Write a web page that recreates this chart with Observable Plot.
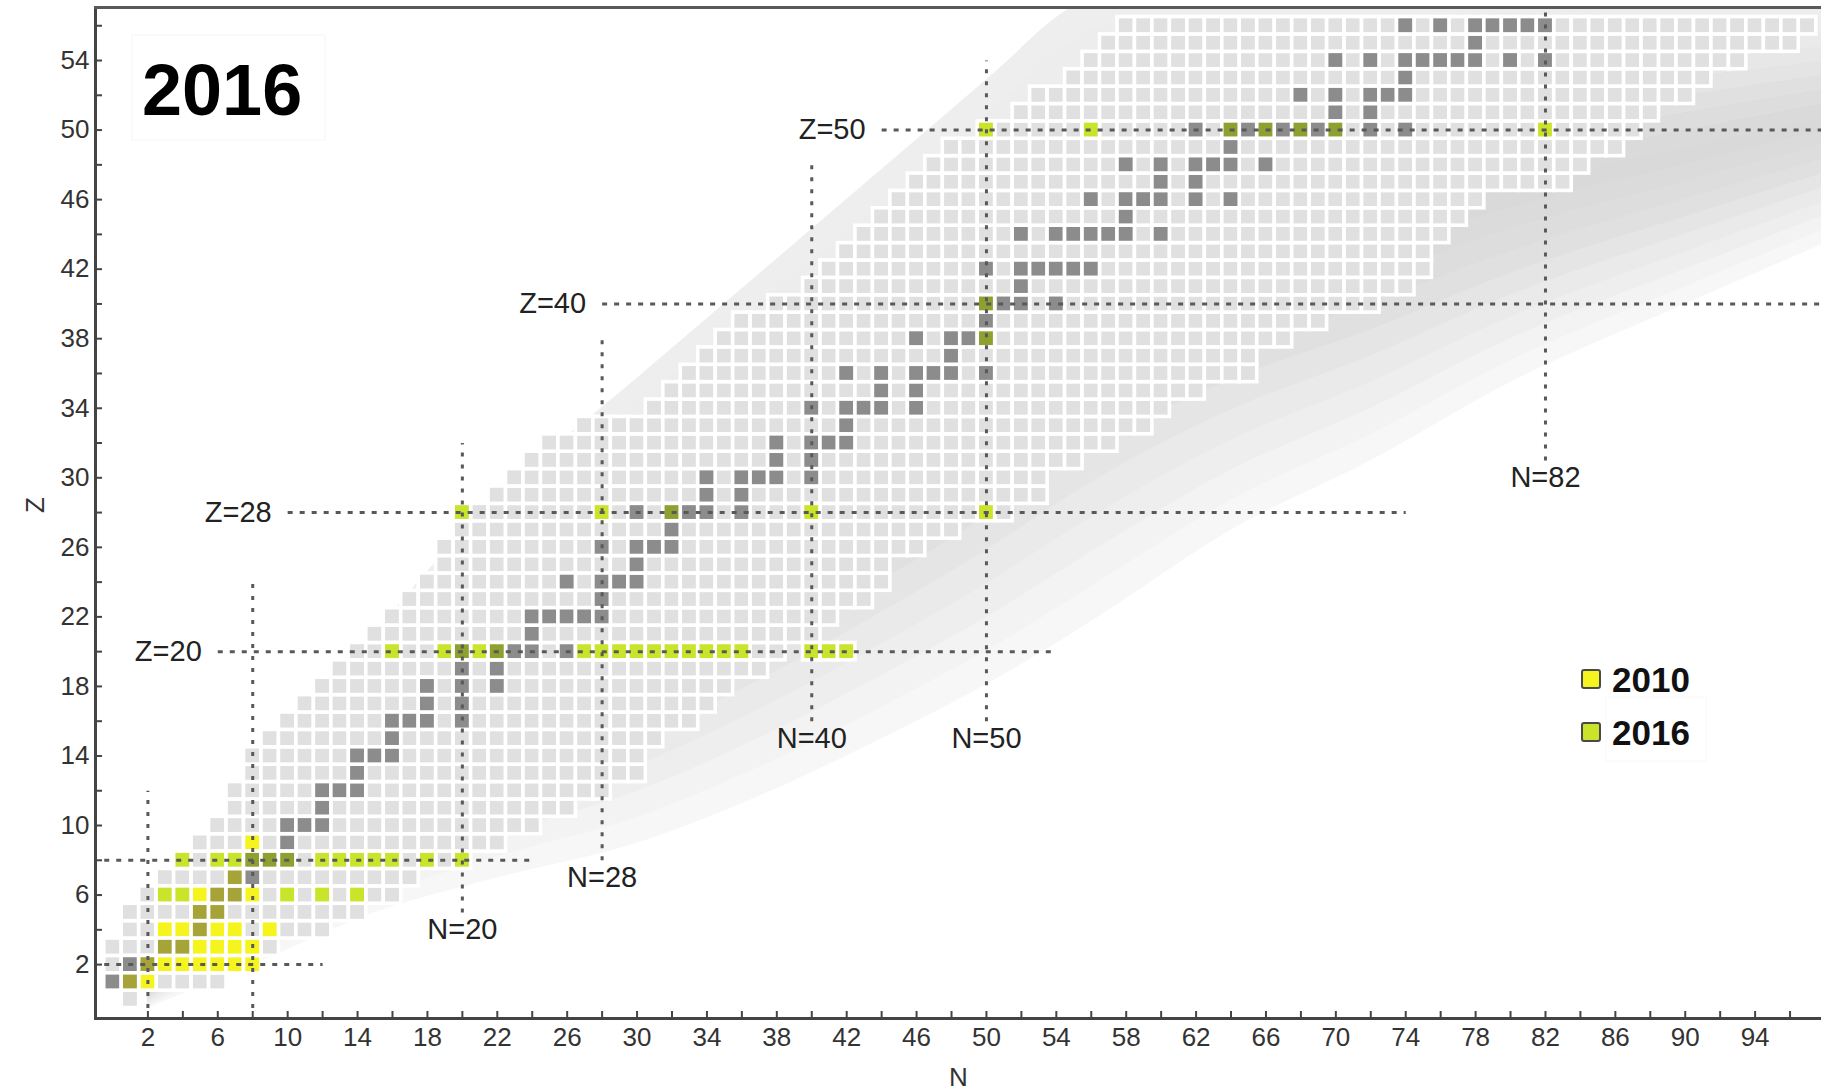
<!DOCTYPE html>
<html>
<head>
<meta charset="utf-8">
<script src="https://cdn.jsdelivr.net/npm/d3@7"></script>
<script src="https://cdn.jsdelivr.net/npm/@observablehq/plot@0.6"></script>
<style>
  html, body { margin: 0; padding: 0; background: #fff; }
  #chart { width: 1821px; height: 1091px; overflow: hidden; }
</style>
</head>
<body>
<div id="chart"></div>
<script>
// Known nuclei: lightest and heaviest neutron number for each Z = 0..56
const knownMinN = [1, 0, 0, 0, 1, 1, 2, 3, 4, 5,
                   6, 7, 7, 8, 8, 9, 10, 11, 12, 13,
                   14, 15, 16, 17, 18, 19, 19, 20, 20, 22,
                   23, 24, 25, 27, 31, 32, 33, 34, 35, 36,
                   38, 40, 41, 42, 43, 44, 45, 46, 47, 48,
                   50, 52, 53, 55, 56, 57, 58];
const knownMaxN = [1, 6, 8, 9, 12, 14, 16, 17, 20, 22,
                   24, 26, 28, 30, 30, 31, 33, 34, 35, 37,
                   38, 40, 41, 43, 44, 44, 46, 48, 51, 53,
                   53, 55, 57, 59, 60, 62, 65, 65, 67, 69,
                   72, 74, 75, 75, 76, 77, 78, 83, 84, 86,
                   87, 88, 90, 91, 93, 96, 97];

// Stable nuclei, as [Z, [N, ...]]
const stableByZ = [
  [1, [0, 1]], [2, [1, 2]], [3, [3, 4]], [4, [5]], [5, [5, 6]], [6, [6, 7]],
  [7, [7, 8]], [8, [8, 9, 10]], [9, [10]], [10, [10, 11, 12]], [11, [12]],
  [12, [12, 13, 14]], [13, [14]], [14, [14, 15, 16]], [15, [16]],
  [16, [16, 17, 18, 20]], [17, [18, 20]], [18, [18, 20, 22]], [19, [20, 22]],
  [20, [20, 22, 23, 24, 26]], [21, [24]], [22, [24, 25, 26, 27, 28]], [23, [28]],
  [24, [26, 28, 29, 30]], [25, [30]], [26, [28, 30, 31, 32]], [27, [32]],
  [28, [30, 32, 33, 34, 36]], [29, [34, 36]], [30, [34, 36, 37, 38, 40]],
  [31, [38, 40]], [32, [38, 40, 41, 42]], [33, [42]], [34, [40, 42, 43, 44, 46]],
  [35, [44, 46]], [36, [42, 44, 46, 47, 48, 50]], [37, [48]], [38, [46, 48, 49, 50]],
  [39, [50]], [40, [50, 51, 52, 54]], [41, [52]], [42, [50, 52, 53, 54, 55, 56]],
  [44, [52, 54, 55, 56, 57, 58, 60]], [45, [58]], [46, [56, 58, 59, 60, 62, 64]],
  [47, [60, 62]], [48, [58, 60, 62, 63, 64, 66]], [49, [64]],
  [50, [62, 64, 65, 66, 67, 68, 69, 70, 72, 74]], [51, [70, 72]],
  [52, [68, 70, 72, 73, 74]], [53, [74]], [54, [70, 72, 74, 75, 76, 77, 78, 80, 82]],
  [55, [78]], [56, [74, 76, 78, 79, 80, 81, 82]]
];

// Nuclei reached by ab initio calculations, as [Z, [N, ...]]
const computed2010 = [
  [1, [1, 2]], [2, [2, 3, 4, 5, 6, 7, 8]], [3, [3, 4, 5, 6, 7, 8]],
  [4, [3, 4, 5, 6, 7, 9]], [5, [5, 6]], [6, [5, 6, 7, 8]], [7, [7]], [9, [8]]
];
const computed2016 = [
  [6, [3, 4, 10, 12, 14]],
  [8, [4, 6, 7, 8, 9, 10, 12, 13, 14, 15, 16, 18, 20]],
  [20, [16, 19, 20, 21, 22, 27, 28, 29, 30, 31, 32, 33, 34, 35, 36, 40, 41, 42]],
  [28, [20, 28, 32, 40, 50]], [38, [50]], [40, [50]],
  [50, [50, 56, 64, 66, 68, 70, 82]]
];

// Magic numbers: vertical guides (N) and horizontal guides (Z) with their extents
const magicN = [2, 8, 20, 28, 40, 50, 82];
const magicNFromZ = [-0.5, -0.5, 5, 8, 16, 16, 31];
const magicNToZ = [12, 24, 32, 38, 48, 54, 58];
const magicNLabel = ["", "", "N=20", "N=28", "N=40", "N=50", "N=82"];
const magicZ = [2, 8, 20, 28, 40, 50];
const magicZFromN = [-0.5, -0.5, 6, 10, 28, 44];
const magicZToN = [12, 24, 54, 74, 100, 100];
const magicZLabel = ["", "", "Z=20", "Z=28", "Z=40", "Z=50"];

// Drip-line band: neutron number with its lower and upper Z edge
const bandN = [2, 8, 15, 22, 30, 37, 44, 50.5, 54.5, 57, 64, 72, 80, 90, 98];
const bandLow = [-0.5, 2, 5, 7, 9, 11.7, 15, 18.4, 20.8, 22.4, 27, 31, 35.5, 40, 43.5];
const bandHigh = [1.5, 11, 21, 28.8, 35.7, 41.7, 47.7, 53.3, 56.8, 58.9, 64.7, 71.6, 78.5, 87, 94];

// Axis ticks
const tickN = d3.range(2, 97, 2);
const labelN = d3.range(2, 95, 4);
const tickZ = d3.range(2, 57, 2);
const labelZ = d3.range(2, 55, 4);

// Legend entries
const legendYears = ["2010", "2016"];
const legendFill = ["#f6f41e", "#c9e42a"];

// ---- build the cell table ----
const key = (n, z) => n + ":" + z;
const kindOf = new Map();
knownMinN.forEach((lo, z) => {
  for (let n = lo; n <= knownMaxN[z]; n++) kindOf.set(key(n, z), "known");
});
for (const [z, ns] of stableByZ) for (const n of ns) kindOf.set(key(n, z), "stable");
for (const [z, ns] of computed2010) for (const n of ns) {
  const prev = kindOf.get(key(n, z));
  kindOf.set(key(n, z), prev === "stable" ? "stable2010" : "y2010");
}
for (const [z, ns] of computed2016) for (const n of ns) {
  const prev = kindOf.get(key(n, z));
  kindOf.set(key(n, z), (prev === "stable" || prev === "stable2010") ? "stable2016" : "y2016");
}
const kinds = ["known", "stable", "y2010", "stable2010", "y2016", "stable2016"];
const kindFill = ["#e0e0e0", "#8c8c8c", "#f6f41e", "#a6a339", "#c9e42a", "#8ea02f"];
const cells = Array.from(kindOf, ([k, kind]) => {
  const [n, z] = k.split(":").map(Number);
  return {n, z, kind};
}).sort((a, b) => kinds.indexOf(a.kind) - kinds.indexOf(b.kind));

const vLines = magicN.map((n, i) => ({n, z1: magicNFromZ[i], z2: magicNToZ[i], label: magicNLabel[i]}));
const hLines = magicZ.map((z, i) => ({z, n1: magicZFromN[i], n2: magicZToN[i], label: magicZLabel[i]}));

// band drawn as stacked strips with a grey ramp across its width
const Z_TOP = 57.05;
const bandRows = bandN.map((n, i) => ({n, lo: bandLow[i], hi: Math.min(bandHigh[i], Z_TOP + 1)}));
const STRIPS = 18;
const bandRamp = d3.piecewise(d3.interpolateRgb,
  ["#f9f9f9", "#ececec", "#dedede", "#d8d8d8", "#e2e2e2", "#ebebeb", "#eeeeee"]);
const bandMarks = d3.range(STRIPS).map(k => {
  const c = bandRamp((k + 0.5) / STRIPS);
  return Plot.areaY(bandRows, {
    x: "n",
    y1: d => d.lo + (d.hi - d.lo) * k / STRIPS,
    y2: d => d.lo + (d.hi - d.lo) * (k + 1) / STRIPS,
    fill: c, stroke: c, strokeWidth: 0.6,
    curve: "monotone-x", clip: true
  });
});

const W = 1821, H = 1091;
const mL = 95, mR = 0, mT = 7, mB = 73;
const plotW = W - mL - mR, plotH = H - mT - mB;
const FONT = "'Liberation Sans', Arial, Helvetica, sans-serif";

const chart = Plot.plot({
  width: W, height: H,
  marginLeft: mL, marginRight: mR, marginTop: mT, marginBottom: mB,
  x: {domain: [-1, 97.8], axis: null},
  y: {domain: [-1.1, Z_TOP], axis: null},
  color: {domain: kinds, range: kindFill},
  style: {fontFamily: FONT, background: "white", color: "#333"},
  marks: [
    ...bandMarks,
    Plot.rect(cells, {
      x1: d => d.n - 0.5, x2: d => d.n + 0.5,
      y1: d => d.z - 0.5, y2: d => d.z + 0.5,
      fill: "kind", stroke: "white", strokeWidth: 3.6, clip: true
    }),
    Plot.link(hLines, {
      x1: "n1", x2: "n2", y1: "z", y2: "z",
      stroke: "#595959", strokeWidth: 3, strokeDasharray: "5,7", clip: true
    }),
    Plot.link(vLines, {
      x1: "n", x2: "n", y1: "z1", y2: "z2",
      stroke: "#595959", strokeWidth: 3, strokeDasharray: "4,8", clip: true
    }),
    Plot.text(hLines.filter(d => d.label), {
      x: "n1", y: "z", text: "label", textAnchor: "end", dx: -16,
      fontSize: 29, fill: "#222", lineAnchor: "middle"
    }),
    Plot.text(vLines.filter(d => d.label), {
      x: "n", y: "z1", text: "label", lineAnchor: "top", dy: 6,
      fontSize: 29, fill: "#222"
    }),
    // inward tick marks
    Plot.ruleX(tickN, {x: d => d, insetTop: plotH - 7, stroke: "#444", strokeWidth: 2}),
    Plot.ruleY(tickZ, {y: d => d, insetRight: plotW - 7, stroke: "#444", strokeWidth: 2}),
    Plot.axisX(labelN, {anchor: "bottom", tickSize: 0, tickPadding: 9, fontSize: 26, label: null, color: "#333"}),
    Plot.axisY(labelZ, {anchor: "left", tickSize: 0, tickPadding: 6, fontSize: 26, label: null, color: "#333"}),
    Plot.frame({anchor: "bottom", stroke: "#444", strokeWidth: 3}),
    Plot.frame({anchor: "left", stroke: "#444", strokeWidth: 3}),
    Plot.frame({anchor: "top", stroke: "#5a5a5a", strokeWidth: 3}),
    Plot.text(["N"], {text: d => d, frameAnchor: "bottom", dy: 59, lineAnchor: "middle", fontSize: 26, fill: "#333"}),
    Plot.text(["Z"], {text: d => d, frameAnchor: "left", dx: -60, rotate: -90, lineAnchor: "middle", fontSize: 26, fill: "#333"})
  ]
});

// year badge and legend (the plot's svg centres text by default, so anchor at start)
const svg = d3.select(chart);
const badge = svg.append("g").attr("text-anchor", "start");
badge.append("rect").attr("x", 132).attr("y", 35).attr("width", 193).attr("height", 105)
  .attr("fill", "white").attr("stroke", "#f5f5f5");
badge.append("text").attr("x", 142).attr("y", 115)
  .attr("font-family", FONT).attr("font-size", 72).attr("font-weight", "bold").attr("fill", "#000")
  .text("2016");

const legend = svg.append("g").attr("text-anchor", "start");
legend.append("rect").attr("x", 1606).attr("y", 697).attr("width", 100).attr("height", 64)
  .attr("fill", "white").attr("stroke", "#f9f9f9");
legendYears.forEach((yr, i) => {
  const top = 670 + i * 53;
  legend.append("rect").attr("x", 1582).attr("y", top).attr("width", 18).attr("height", 18)
    .attr("rx", 2).attr("fill", legendFill[i]).attr("stroke", "#4a4a4a").attr("stroke-width", 2);
  legend.append("text").attr("x", 1612).attr("y", top + 22)
    .attr("font-family", FONT).attr("font-size", 35).attr("font-weight", "bold").attr("fill", "#111")
    .text(yr);
});

document.getElementById("chart").appendChild(chart);
</script>
</body>
</html>
